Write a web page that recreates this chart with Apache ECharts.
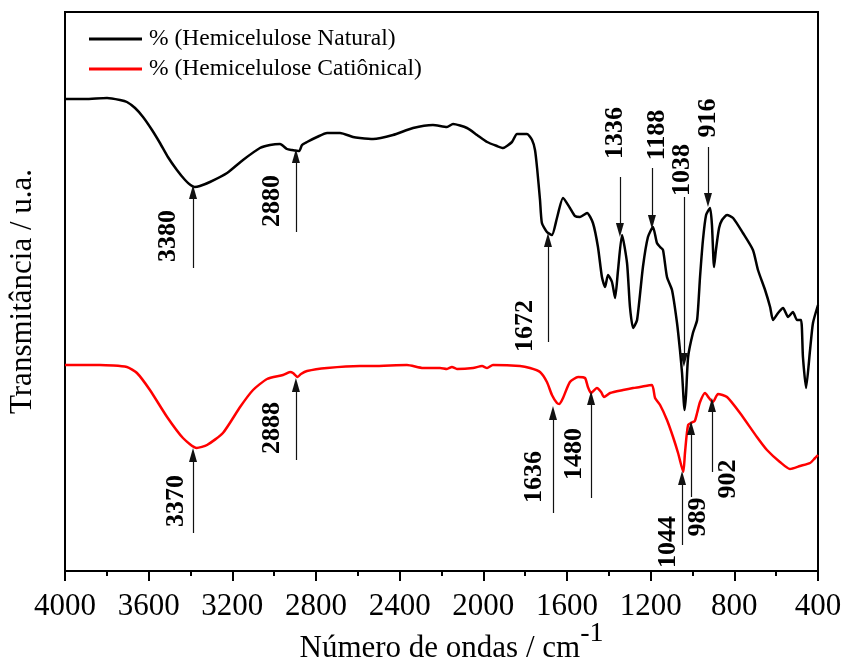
<!DOCTYPE html>
<html>
<head>
<meta charset="utf-8">
<script src="https://cdn.jsdelivr.net/npm/echarts@6/dist/echarts.min.js"></script>
<style>
html,body{margin:0;padding:0;background:#fff;}
#c{width:842px;height:663px;}
</style>
</head>
<body>
<div id="c"></div>
<script>
// x-axis ticks (wavenumber, cm-1)
const xTicks = [4000, 3600, 3200, 2800, 2400, 2000, 1600, 1200, 800, 400];
const seriesNames = ['% (Hemicelulose Natural)', '% (Hemicelulose Catiônical)'];

// Natural hemicellulose: [wavenumber, transmittance (a.u.)]
const natural = [
  [4000,472],[3904,472],[3799,473],[3737,471],[3704,469],[3665,463],[3627,454],[3584,441],
  [3546,428],[3508,414],[3465,401],[3426,391],[3400,386],[3380,384],[3355,385],[3307,389],
  [3225,398],[3149,411],[3068,423],[3020,426],[2972,427],[2939,422],[2915,421],[2880,420],
  [2867,426],[2843,429],[2795,434],[2747,438],[2685,438],[2623,434],[2590,433],[2527,432],
  [2432,436],[2336,443],[2241,446],[2174,444],[2145,447],[2078,443],[2030,436],[1982,429],
  [1935,425],[1906,423],[1863,429],[1839,437],[1791,437],[1767,431],[1753,421],[1743,403],
  [1729,371],[1720,348],[1696,339],[1672,336],[1648,353],[1619,373],[1586,363],[1562,355],
  [1538,354],[1504,358],[1476,348],[1452,324],[1433,294],[1418,284],[1404,296],[1385,289],
  [1370,273],[1356,301],[1337,336],[1313,308],[1299,264],[1284,243],[1265,251],[1237,304],
  [1213,334],[1189,344],[1170,328],[1155,324],[1141,321],[1122,294],[1098,281],[1074,248],
  [1060,221],[1050,198],[1038,161],[1031,176],[1021,214],[998,238],[978,251],[964,294],
  [950,331],[935,356],[916,363],[907,346],[897,304],[888,321],[873,343],[859,351],
  [835,356],[806,353],[759,338],[711,321],[687,301],[653,281],[629,264],[615,251],
  [591,258],[567,263],[543,254],[520,259],[500,251],[481,251],[472,214],[457,183],
  [438,221],[424,248],[400,266]
];

// Cationic hemicellulose: [wavenumber, transmittance (a.u.)]
const cationic = [
  [4000,206],[3833,206],[3704,204],[3656,198],[3594,181],[3512,154],[3436,133],[3370,123],
  [3321,126],[3245,138],[3163,164],[3101,181],[3034,192],[2958,196],[2924,199],[2910,198],
  [2888,194],[2872,197],[2843,200],[2747,203],[2590,205],[2527,205],[2365,206],[2288,203],
  [2207,203],[2174,202],[2150,204],[2126,202],[2049,203],[2006,205],[1982,203],[1954,206],
  [1825,205],[1777,203],[1729,199],[1696,189],[1672,176],[1648,168],[1636,167],[1619,173],
  [1586,189],[1547,194],[1514,193],[1500,184],[1485,178],[1457,183],[1437,179],[1423,174],
  [1394,178],[1332,181],[1284,183],[1251,184],[1194,186],[1179,173],[1155,166],[1122,151],
  [1093,134],[1069,118],[1044,99],[1036,118],[1021,146],[998,149],[989,150],[978,158],
  [964,169],[940,178],[921,173],[902,169],[878,177],[835,174],[773,158],[692,134],
  [644,121],[582,109],[534,102],[486,105],[438,108],[414,113],[400,116]
];

// Peak annotations: label, arrow wavenumber, arrow tail/head values, label anchor
const peakLabels   = ['3380','2880','1672','1336','1188','1038','916', '3370','2888','1636','1480','1044','989','902'];
const arrowWave    = [3388, 2896, 1691, 1347, 1194, 1041, 926,  3388, 2896, 1667, 1485, 1050, 1007, 907];
const arrowFrom    = [303,  339,  229,  394,  403,  374,  424,  38,   111,  58,   73,   26,   74,   99];
const arrowTo      = [379,  415,  331,  341,  349,  211,  371,  116,  186,  158,  173,  93,   143,  166];
const labelWave    = [3505, 3010, 1801, 1371, 1170, 1050, 926,  3469, 3010, 1758, 1567, 1117, 974,  830];
const labelValue   = [335,  370,  245,  438,  436,  401,  453,  70,   143,  94,   117,  29,   54,   92];

const FONT = "'Liberation Serif','Times New Roman',serif";

const arrows = peakLabels.map((t, i) => [
  { coord: [arrowWave[i], arrowFrom[i]] },
  { coord: [arrowWave[i], arrowTo[i]] }
]);
const labelPts = peakLabels.map((t, i) => [labelWave[i], labelValue[i], t]);

const chart = echarts.init(document.getElementById('c'), null, { renderer: 'canvas' });
chart.setOption({
  animation: false,
  backgroundColor: '#fff',
  grid: { left: 65, right: 24, top: 12, bottom: 92, containLabel: false, outerBoundsMode: 'none',
    show: true, borderColor: '#000', borderWidth: 2, backgroundColor: 'transparent' },
  legend: {
    orient: 'vertical', left: 89, top: 27, padding: 0, itemGap: 6,
    itemWidth: 53, itemHeight: 3, icon: 'rect',
    data: seriesNames,
    textStyle: { fontFamily: FONT, fontSize: 23.5, color: '#000', padding: [0, 0, 0, 2] }
  },
  xAxis: {
    type: 'value', inverse: true, min: 400, max: 4000, interval: 400,
    name: '{a|Número de ondas / cm}{b|-1}',
    nameLocation: 'middle', nameGap: 49, nameMoveOverlap: false,
    nameTextStyle: {
      rich: {
        a: { fontFamily: FONT, fontSize: 31, color: '#000', verticalAlign: 'bottom', lineHeight: 44, padding: [0, 0, 0, 20] },
        b: { fontFamily: FONT, fontSize: 28, color: '#000', verticalAlign: 'top', lineHeight: 30 }
      }
    },
    axisLine: { show: true, lineStyle: { color: '#000', width: 2 } },
    axisTick: { show: true, inside: false, length: 10, lineStyle: { color: '#000', width: 2 } },
    minorTick: { show: true, splitNumber: 2, length: 5, lineStyle: { color: '#000', width: 2 } },
    axisLabel: { fontFamily: FONT, fontSize: 31, color: '#000', margin: 20,
      formatter: v => xTicks.includes(v) ? String(v) : '' },
    splitLine: { show: false }, minorSplitLine: { show: false }
  },
  yAxis: {
    type: 'value', min: 0, max: 559,
    name: 'Transmitância / u.a.', nameLocation: 'middle', nameGap: 27, nameRotate: 90,
    nameTextStyle: { fontFamily: FONT, fontSize: 31, color: '#000', padding: [0, 0, 0, 0] },
    axisLine: { show: true, lineStyle: { color: '#000', width: 2 } },
    axisTick: { show: false }, axisLabel: { show: false }, splitLine: { show: false }
  },
  series: [
    { name: seriesNames[0], type: 'line', data: natural, showSymbol: false, symbol: 'none', smooth: 0.2,
      lineStyle: { color: '#000', width: 2.5 }, itemStyle: { color: '#000' }, z: 3 },
    { name: seriesNames[1], type: 'line', data: cationic, showSymbol: false, symbol: 'none', smooth: 0.2,
      lineStyle: { color: '#ff0000', width: 2.5 }, itemStyle: { color: '#ff0000' }, z: 3 },
    { name: 'peaks', type: 'scatter', data: labelPts, symbolSize: 0, silent: true, z: 5,
      itemStyle: { color: '#000' },
      label: { show: true, position: 'inside', rotate: 90, formatter: p => p.data[2],
        fontFamily: FONT, fontSize: 26, fontWeight: 'bold', color: '#000',
        textBorderWidth: 0, textBorderColor: 'transparent', opacity: 1,
        align: 'center', verticalAlign: 'middle' },
      markLine: { silent: true, symbol: ['none', 'triangle'], symbolSize: [8, 14],
        lineStyle: { color: '#111', width: 1.2, type: 'solid' }, label: { show: false },
        data: arrows }
    }
  ]
});
</script>
</body>
</html>
